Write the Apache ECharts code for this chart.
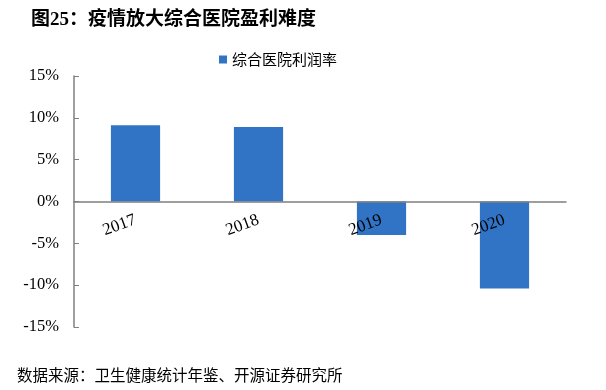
<!DOCTYPE html>
<html><head><meta charset="utf-8">
<script src="https://cdn.jsdelivr.net/npm/echarts@6/dist/echarts.min.js"></script>
<style>html,body{margin:0;padding:0;background:#fff}#c{width:606px;height:390px}</style>
</head><body><div id="c"></div>
<script>
const categories = ['2017', '2018', '2019', '2020'];
const profitRate = [9.1, 8.9, -4.0, -10.4];
const seriesName = '综合医院利润率';
const titleText = '图25：疫情放大综合医院盈利难度';
const sourceText = '数据来源：卫生健康统计年鉴、开源证券研究所';

const gridTop = 76, gridBottom = 63, H = 390;
const zeroOffset = -(H - gridTop - gridBottom) / 2;

const chart = echarts.init(document.getElementById('c'));
chart.setOption({
  animation: false,
  backgroundColor: '#fff',
  title: {
    text: titleText, left: 26, top: 6,
    textStyle: {fontSize: 19, fontWeight: 'bold', color: '#000', fontFamily: '"Liberation Serif","Noto Sans CJK SC",serif'}
  },
  legend: {
    left: 214, top: 47, itemWidth: 8, itemHeight: 8, itemGap: 4,
    icon: 'rect',
    textStyle: {fontSize: 15, color: '#000', fontFamily: '"Noto Sans CJK SC",sans-serif'},
    data: [seriesName]
  },
  graphic: [{
    type: 'text', left: 17, top: 367,
    style: {text: sourceText, fontSize: 15.5, fill: '#000', fontFamily: '"Noto Sans CJK SC",sans-serif'}
  }],
  grid: {left: 74, right: 40, top: gridTop, bottom: gridBottom},
  xAxis: {
    type: 'category', data: categories,
    position: 'bottom', offset: zeroOffset,
    z: 1,
    axisLine: {onZero: false, lineStyle: {color: '#7f7f7f', width: 1.5}},
    axisTick: {inside: true, length: 4, lineStyle: {color: '#555'}},
    axisLabel: {rotate: 20, margin: 18, fontSize: 17, color: '#000', fontFamily: '"Liberation Serif",serif'}
  },
  yAxis: {
    type: 'value', min: -15, max: 15, interval: 5,
    splitLine: {show: false},
    axisLine: {show: true, lineStyle: {color: '#7f7f7f', width: 1.5}},
    axisTick: {show: true, inside: true, length: 5, lineStyle: {color: '#7f7f7f'}},
    axisLabel: {formatter: '{value}%', margin: 15, fontSize: 16.5, color: '#000', fontFamily: '"Liberation Serif",serif'}
  },
  series: [{
    name: seriesName, type: 'bar', data: profitRate, barWidth: '40%',
    z: 0,
    itemStyle: {color: '#3174c6'}
  }]
});
</script></body></html>
